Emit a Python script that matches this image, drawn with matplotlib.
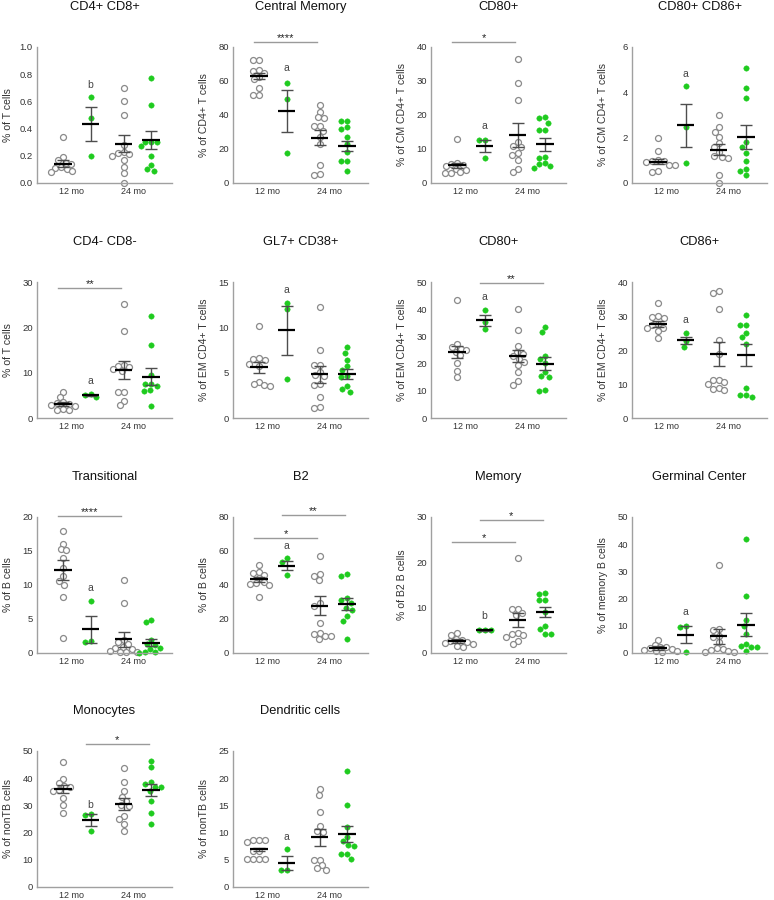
import numpy as np
import matplotlib
matplotlib.use('Agg')
import matplotlib.pyplot as plt

plt.rcParams['font.family'] = ['Liberation Sans', 'DejaVu Sans']

# group order in every panel: 12 mo control, 12 mo treated, 24 mo control, 24 mo treated
group_labels = ['12 mo', '24 mo']

titles = ['CD4+ CD8+', 'Central Memory', 'CD80+', 'CD80+ CD86+',
          'CD4- CD8-', 'GL7+ CD38+', 'CD80+', 'CD86+',
          'Transitional', 'B2', 'Memory', 'Germinal Center',
          'Monocytes', 'Dendritic cells']
ylabels = ['% of T cells', '% of CD4+ T cells', '% of CM CD4+ T cells',
           '% of CM CD4+ T cells', '% of T cells', '% of EM CD4+ T cells',
           '% of EM CD4+ T cells', '% of EM CD4+ T cells', '% of B cells',
           '% of B cells', '% of B2 B cells', '% of memory B cells',
           '% of nonTB cells', '% of nonTB cells']
ymaxes = [1.0, 80, 40, 6, 30, 15, 50, 40, 20, 80, 30, 50, 50, 25]
ysteps = [0.2, 20, 10, 2, 10, 5, 10, 10, 5, 20, 10, 10, 10, 5]

cd4_cd8 = [[0.34, 0.19, 0.17, 0.15, 0.14, 0.12, 0.11, 0.10, 0.09, 0.08],
           [0.63, 0.48, 0.20],
           [0.70, 0.60, 0.50, 0.28, 0.23, 0.22, 0.21, 0.20, 0.17, 0.12, 0.07, 0.0],
           [0.77, 0.57, 0.30, 0.30, 0.30, 0.27, 0.20, 0.13, 0.10, 0.09]]
cd4_cd8_mean = [0.143, 0.435, 0.29, 0.315]
cd4_cd8_sem = [0.025, 0.125, 0.065, 0.065]

central_memory = [[72.5, 72.5, 66.6, 66.0, 64.5, 62.6, 61.0, 55.8, 52.0, 51.8],
                  [59.0, 49.5, 17.7],
                  [46.0, 42.0, 38.6, 38.0, 33.5, 33.5, 30.5, 27.0, 23.0, 10.4, 5.5, 5.0],
                  [36.6, 36.6, 32.7, 32.0, 27.0, 23.0, 18.3, 13.0, 13.0, 7.0]]
central_memory_mean = [62.7, 42.2, 26.6, 21.9]
central_memory_sem = [1.8, 12.4, 4.4, 3.0]

cd80_cm = [[12.8, 5.9, 5.7, 5.4, 5.0, 4.2, 3.9, 3.2, 3.0, 2.8],
           [12.6, 12.6, 7.4],
           [36.6, 29.4, 24.4, 12.1, 10.9, 10.6, 8.9, 8.2, 6.7, 4.2, 3.2],
           [19.3, 19.0, 17.7, 15.6, 15.6, 7.7, 7.5, 5.9, 5.5, 4.9, 4.5]]
cd80_cm_mean = [5.2, 10.9, 14.1, 11.4]
cd80_cm_sem = [0.75, 1.8, 3.5, 1.85]

cd80_cd86_cm = [[2.0, 1.43, 1.0, 0.97, 0.95, 0.92, 0.78, 0.78, 0.52, 0.50],
                [4.26, 2.47, 0.89],
                [2.99, 2.45, 2.25, 2.05, 1.76, 1.6, 1.38, 1.19, 1.16, 1.09, 0.34, 0.0],
                [5.06, 4.18, 3.74, 1.79, 1.61, 1.31, 0.97, 0.61, 0.54, 0.34]]
cd80_cd86_cm_mean = [0.94, 2.54, 1.46, 2.02]
cd80_cd86_cm_sem = [0.11, 0.95, 0.24, 0.52]

cd4n_cd8n = [[5.7, 4.6, 3.5, 3.3, 3.1, 2.9, 2.7, 2.0, 1.7, 1.7],
             [5.4, 5.1, 4.7],
             [25.2, 19.3, 11.6, 11.4, 11.2, 10.7, 10.3, 5.7, 5.7, 3.8, 2.8],
             [22.4, 16.0, 9.5, 7.4, 7.4, 7.0, 6.1, 6.0, 2.7]]
cd4n_cd8n_mean = [3.1, 5.0, 10.6, 9.1]
cd4n_cd8n_sem = [0.4, 0.15, 2.0, 1.9]

gl7_cd38 = [[10.1, 6.6, 6.5, 6.4, 6.0, 5.7, 4.0, 3.7, 3.6, 3.5],
            [12.7, 12.0, 4.3],
            [12.2, 7.5, 5.9, 5.8, 5.1, 4.7, 4.6, 3.7, 3.6, 2.3, 1.2, 1.1],
            [7.8, 7.2, 6.4, 5.7, 5.3, 4.6, 4.5, 3.5, 3.2, 2.9]]
gl7_cd38_mean = [5.6, 9.7, 4.8, 4.9]
gl7_cd38_sem = [0.6, 2.7, 0.95, 0.55]

cd80_em = [[43.3, 27.3, 26.1, 25.5, 24.9, 24.3, 23.0, 20.3, 17.3, 15.0],
           [39.8, 35.3, 32.8],
           [40.0, 32.2, 26.5, 24.3, 23.6, 22.7, 21.8, 20.6, 19.4, 16.9, 13.5, 12.0],
           [33.5, 31.6, 22.7, 21.8, 20.3, 16.9, 15.4, 15.2, 10.4, 9.9]]
cd80_em_mean = [24.3, 35.9, 22.8, 20.0]
cd80_em_sem = [2.35, 2.0, 2.3, 2.45]

cd86_em = [[33.8, 29.9, 29.6, 29.4, 27.6, 27.4, 26.6, 26.4, 25.6, 23.4],
           [24.9, 22.7, 21.0],
           [37.5, 36.7, 32.0, 23.0, 18.8, 11.3, 11.1, 10.6, 10.1, 8.7, 8.5, 8.2],
           [30.3, 27.4, 27.4, 25.1, 23.9, 21.7, 8.9, 6.9, 6.7, 6.2]]
cd86_em_mean = [27.7, 22.9, 18.8, 18.5]
cd86_em_sem = [0.85, 1.05, 3.5, 3.25]

transitional = [[18.0, 16.1, 15.3, 15.1, 13.9, 12.5, 11.3, 10.6, 10.0, 8.2, 2.2],
                [7.6, 1.7, 1.6],
                [10.7, 7.4, 1.9, 1.6, 1.3, 0.9, 0.8, 0.6, 0.3, 0.2, 0.1, 0.1],
                [4.9, 4.5, 1.9, 1.3, 1.2, 0.7, 0.6, 0.1, 0.1, 0.05]]
transitional_mean = [12.2, 3.5, 2.0, 1.5]
transitional_sem = [1.45, 2.0, 1.1, 0.5]

b2 = [[51.7, 47.8, 47.2, 45.8, 43.9, 42.0, 41.0, 40.6, 40.0, 32.8],
      [55.6, 53.7, 45.8],
      [57.0, 46.4, 45.3, 42.9, 29.3, 27.9, 17.6, 11.7, 11.1, 9.8, 9.8, 8.2],
      [46.4, 45.3, 32.2, 31.2, 29.3, 26.7, 25.4, 21.5, 19.1, 8.2]]
b2_mean = [43.3, 51.3, 27.9, 28.7]
b2_sem = [1.5, 2.7, 5.4, 3.4]

memory = [[4.4, 4.0, 3.1, 2.9, 2.6, 2.4, 2.1, 1.9, 1.6, 1.3],
          [5.0, 5.0, 5.0],
          [20.9, 9.8, 9.6, 8.8, 8.3, 4.4, 4.2, 3.9, 3.6, 2.7, 2.0],
          [13.3, 13.1, 11.6, 11.6, 9.0, 5.9, 5.3, 4.2, 4.1]]
memory_mean = [2.6, 5.0, 7.2, 9.0]
memory_sem = [0.4, 0.05, 1.55, 1.15]

germinal = [[4.9, 3.1, 2.3, 2.1, 1.9, 1.5, 1.1, 0.9, 0.6, 0.2],
            [10.1, 9.5, 0.5],
            [32.3, 8.9, 8.5, 6.4, 5.8, 4.0, 1.9, 1.5, 1.1, 0.9, 0.4, 0.3],
            [41.9, 20.9, 12.2, 10.1, 7.0, 3.3, 2.5, 2.1, 2.1, 0.6]]
germinal_mean = [1.9, 6.8, 6.2, 10.4]
germinal_sem = [0.65, 3.1, 2.8, 4.2]

monocytes = [[46.1, 39.8, 38.2, 37.0, 36.8, 35.6, 35.4, 32.8, 30.3, 27.3],
             [26.7, 26.5, 20.6],
             [43.7, 38.6, 35.2, 33.1, 31.6, 30.3, 29.7, 26.1, 24.9, 23.1, 20.6],
             [46.5, 44.1, 38.6, 38.0, 36.8, 36.8, 35.2, 31.8, 27.1, 23.3]]
monocytes_mean = [36.0, 24.6, 30.6, 35.8]
monocytes_sem = [1.35, 2.2, 2.15, 2.25]

dendritic = [[8.7, 8.6, 8.6, 8.3, 6.7, 6.6, 5.2, 5.2, 5.2, 5.1],
             [6.9, 3.1, 3.1],
             [18.1, 17.0, 13.7, 11.3, 10.3, 10.1, 5.0, 4.9, 4.0, 3.5, 3.1],
             [21.3, 15.1, 11.0, 9.2, 8.4, 7.7, 7.5, 6.1, 6.0, 5.2]]
dendritic_mean = [6.9, 4.4, 9.1, 9.8]
dendritic_sem = [0.3, 1.25, 1.65, 1.5]

# letter over the 12 mo treated group: (letter, y)
letters = [('b', 0.72), ('a', 67.5), ('a', 16.7), ('a', 4.8),
           ('a', 8.2), ('a', 14.1), ('a', 44.5), ('a', 28.7),
           ('a', 9.5), ('a', 62.8), ('b', 8.1), ('a', 15.1),
           ('b', 30.1), ('a', 9.2)]

# significance bars: (group a, group b, y, stars)
sig_bars = [[], [(0, 2, 82.8, '****')], [(0, 2, 41.4, '*')], [],
            [(0, 2, 28.7, '**')], [], [(1, 3, 49.6, '**')], [],
            [(0, 2, 20.2, '****')], [(0, 2, 67.9, '*'), (1, 3, 81.0, '**')],
            [(0, 2, 24.5, '*'), (1, 3, 29.3, '*')], [],
            [(1, 3, 52.5, '*')], []]

panel_data = [cd4_cd8, central_memory, cd80_cm, cd80_cd86_cm, cd4n_cd8n,
              gl7_cd38, cd80_em, cd86_em, transitional, b2, memory,
              germinal, monocytes, dendritic]
panel_mean = [cd4_cd8_mean, central_memory_mean, cd80_cm_mean,
              cd80_cd86_cm_mean, cd4n_cd8n_mean, gl7_cd38_mean, cd80_em_mean,
              cd86_em_mean, transitional_mean, b2_mean, memory_mean,
              germinal_mean, monocytes_mean, dendritic_mean]
panel_sem = [cd4_cd8_sem, central_memory_sem, cd80_cm_sem, cd80_cd86_cm_sem,
             cd4n_cd8n_sem, gl7_cd38_sem, cd80_em_sem, cd86_em_sem,
             transitional_sem, b2_sem, memory_sem, germinal_sem,
             monocytes_sem, dendritic_sem]

W, H = 774, 900
col_left = [37, 233, 431, 632]
row_top = [47, 282, 517, 751]
ax_w, ax_h = 135, 136
xlim = (0.05, 4.96)
px_per_x = ax_w / (xlim[1] - xlim[0])
positions = [1.0, 2.0, 3.2, 4.2]
tick_pos = [1.3, 3.55]

GRAY = '#8a8a8a'
GREEN = '#1fcb1f'


def swarm_offsets(values, px_per_y, d=6.0):
    """Simple beeswarm: push each point sideways until it clears the others."""
    ys = np.asarray(values, dtype=float) * px_per_y
    order = np.argsort(-ys, kind='stable')
    offsets = np.zeros(len(ys))
    placed = []
    for idx in order:
        y = ys[idx]
        cands = [0.0]
        for px, py in placed:
            dy = abs(py - y)
            if dy < d:
                dx = np.sqrt(d * d - dy * dy)
                cands += [px + dx, px - dx]
        cands.sort(key=lambda v: (round(abs(v), 6), v))
        for cx in cands:
            if all((cx - px) ** 2 + (y - py) ** 2 >= d * d - 1e-6
                   for px, py in placed):
                break
        placed.append((cx, y))
        offsets[idx] = cx
    return offsets / px_per_x


fig = plt.figure(figsize=(W / 100, H / 100), dpi=100)

for i, groups in enumerate(panel_data):
    r, c = divmod(i, 4)
    ax = fig.add_axes([col_left[c] / W, 1 - (row_top[r] + ax_h) / H,
                       ax_w / W, ax_h / H])
    ymax = ymaxes[i]
    ax.set_xlim(*xlim)
    ax.set_ylim(0, ymax)
    px_per_y = ax_h / ymax

    for g, vals in enumerate(groups):
        x = positions[g] + swarm_offsets(vals, px_per_y)
        if g % 2 == 0:
            ax.plot(x, vals, 'o', ms=4.3, mfc='white', mec=GRAY, mew=0.9,
                    clip_on=False, zorder=2)
        else:
            ax.plot(x, vals, 'o', ms=3.9, mfc=GREEN, mec=GREEN, mew=0.3,
                    clip_on=False, zorder=2)
        m, s = panel_mean[i][g], panel_sem[i][g]
        p = positions[g]
        ax.vlines(p, m - s, m + s, color='#4d4d4d', lw=1.0, zorder=3)
        ax.hlines([m - s, m + s], p - 0.22, p + 0.22, color='#4d4d4d',
                  lw=1.0, zorder=3)
        ax.hlines(m, p - 0.32, p + 0.32, color='black', lw=1.6, zorder=4)

    letter, ly = letters[i]
    ax.text(positions[1], ly, letter, ha='center', va='center', fontsize=7.5,
            color='#444444')

    for a, b, y, stars in sig_bars[i]:
        ax.plot([positions[a] - 0.18, positions[b] - 0.08], [y, y],
                color='#9a9a9a', lw=1.0, clip_on=False)
        ax.annotate(stars, xy=((positions[a] + positions[b]) / 2 - 0.13, y),
                    xytext=(0, -0.8), textcoords='offset points',
                    ha='center', va='bottom', fontsize=8, color='#222222',
                    annotation_clip=False)

    ticks = np.arange(0, ymax + ysteps[i] / 2, ysteps[i])
    ax.set_yticks(ticks)
    if ymax < 2:
        ax.set_yticklabels(['{:.1f}'.format(t) for t in ticks])
    else:
        ax.set_yticklabels(['{:g}'.format(t) for t in ticks])
    ax.set_xticks(tick_pos)
    ax.set_xticklabels(group_labels)
    ax.tick_params(axis='y', length=0, pad=3, labelsize=6.8,
                   labelcolor='#333333')
    ax.tick_params(axis='x', length=0, pad=3, labelsize=6.5,
                   labelcolor='#333333')

    for side in ['top', 'right']:
        ax.spines[side].set_visible(False)
    for side in ['left', 'bottom']:
        ax.spines[side].set_color('#a0a0a0')
        ax.spines[side].set_linewidth(1.0)

    ax.set_ylabel(ylabels[i], fontsize=7.6, color='#333333')
    ax.yaxis.set_label_coords(-29 / ax_w, 0.5)
    ax.yaxis.label.set_va('center')

    ax.text(0.5, 1 + 40 / ax_h, titles[i], transform=ax.transAxes,
            ha='center', va='center', fontsize=9.3, color='#111111')

fig.savefig('out.png', dpi=100)
